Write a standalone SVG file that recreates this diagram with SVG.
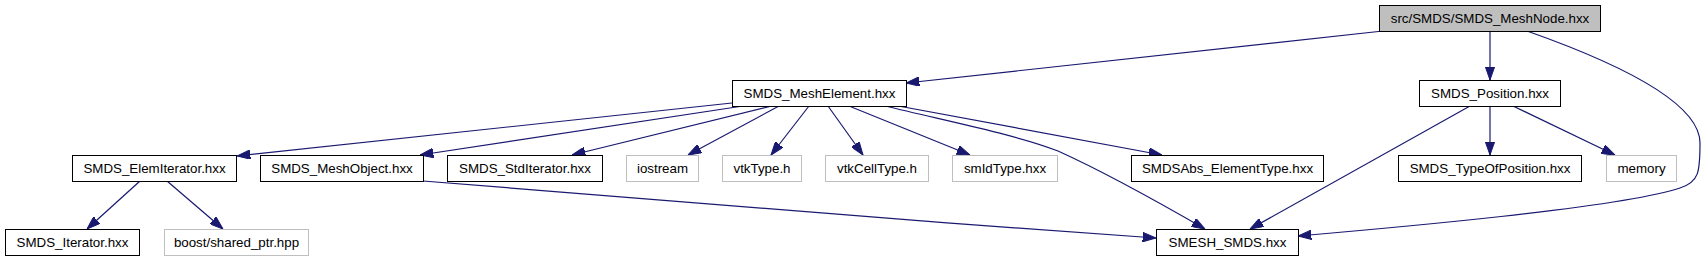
<svg xmlns="http://www.w3.org/2000/svg" width="1706" height="261" viewBox="0 0 1706 261">
<style>
.n rect{fill:#ffffff;stroke:#000000;stroke-width:1}
.n.g rect{stroke:#bfbfbf}
.n.cur rect{fill:#bfbfbf}
.n text{font-family:"Liberation Sans",Arial,sans-serif;font-size:13.33px;fill:#000000;text-anchor:middle}
#edges path{fill:none;stroke:#191970;stroke-width:1.2;marker-end:url(#arr)}
</style>
<defs>
<marker id="arr" viewBox="0 0 13.3 9.4" refX="13.3" refY="4.7" markerWidth="13.3" markerHeight="9.4" markerUnits="userSpaceOnUse" orient="auto">
<path d="M0,0 L13.3,4.7 L0,9.4 z" fill="#191970" stroke="#191970" stroke-width="1"/>
</marker>
</defs>
<rect width="1706" height="261" fill="#ffffff"/>
<g id="edges">
<path d="M1383,31 L906,83"/>
<path d="M1490,31 L1490,80"/>
<path d="M1527,31 C1595,55 1700,98 1700,143 C1700,172 1699,182 1680,188 C1620,208 1390,228 1298,236"/>
<path d="M732,103 L237,156"/>
<path d="M743,106 L420,155"/>
<path d="M772,106 L572,155"/>
<path d="M779,106 L688,155"/>
<path d="M809,106 L771,155"/>
<path d="M828,106 L863,155"/>
<path d="M849,106 L970,155"/>
<path d="M885,106 C960,124 1020,136 1058,151 C1100,170 1160,203 1205,229"/>
<path d="M893,105 L1162,155"/>
<path d="M423,181 C600,197 900,220 1156,238"/>
<path d="M140,181 L87,229"/>
<path d="M167,181 L223,229"/>
<path d="M1470,106 L1250,229"/>
<path d="M1490,106 L1490,155"/>
<path d="M1513,106 L1615,155"/>
</g>
<g id="node_meshnode" class="n cur"><rect x="1379.5" y="5.5" width="221" height="26"/><text x="1490" y="23">src/SMDS/SMDS_MeshNode.hxx</text></g>
<g id="node_meshelement" class="n"><rect x="732.5" y="80.5" width="174" height="26"/><text x="819.5" y="98">SMDS_MeshElement.hxx</text></g>
<g id="node_position" class="n"><rect x="1419.5" y="80.5" width="141" height="26"/><text x="1490" y="98">SMDS_Position.hxx</text></g>
<g id="node_elemiterator" class="n"><rect x="72.5" y="155.5" width="164" height="26"/><text x="154.5" y="173">SMDS_ElemIterator.hxx</text></g>
<g id="node_meshobject" class="n"><rect x="260.5" y="155.5" width="163" height="26"/><text x="342" y="173">SMDS_MeshObject.hxx</text></g>
<g id="node_stditerator" class="n"><rect x="447.5" y="155.5" width="155" height="26"/><text x="525" y="173">SMDS_StdIterator.hxx</text></g>
<g id="node_iostream" class="n g"><rect x="626.5" y="155.5" width="72" height="26"/><text x="662.5" y="173">iostream</text></g>
<g id="node_vtktype" class="n g"><rect x="722.5" y="155.5" width="79" height="26"/><text x="762" y="173">vtkType.h</text></g>
<g id="node_vtkcelltype" class="n g"><rect x="825.5" y="155.5" width="103" height="26"/><text x="877" y="173">vtkCellType.h</text></g>
<g id="node_smidtype" class="n g"><rect x="952.5" y="155.5" width="105" height="26"/><text x="1005" y="173">smIdType.hxx</text></g>
<g id="node_elementtype" class="n"><rect x="1131.5" y="155.5" width="192" height="26"/><text x="1227.5" y="173">SMDSAbs_ElementType.hxx</text></g>
<g id="node_typeofposition" class="n"><rect x="1398.5" y="155.5" width="183" height="26"/><text x="1490" y="173">SMDS_TypeOfPosition.hxx</text></g>
<g id="node_memory" class="n g"><rect x="1606.5" y="155.5" width="70" height="26"/><text x="1641.5" y="173">memory</text></g>
<g id="node_iterator" class="n"><rect x="5.5" y="229.5" width="134" height="26"/><text x="72.5" y="247">SMDS_Iterator.hxx</text></g>
<g id="node_sharedptr" class="n g"><rect x="164.5" y="229.5" width="144" height="26"/><text x="236.5" y="247">boost/shared_ptr.hpp</text></g>
<g id="node_smeshsmds" class="n"><rect x="1156.5" y="229.5" width="142" height="26"/><text x="1227.5" y="247">SMESH_SMDS.hxx</text></g>
</svg>
